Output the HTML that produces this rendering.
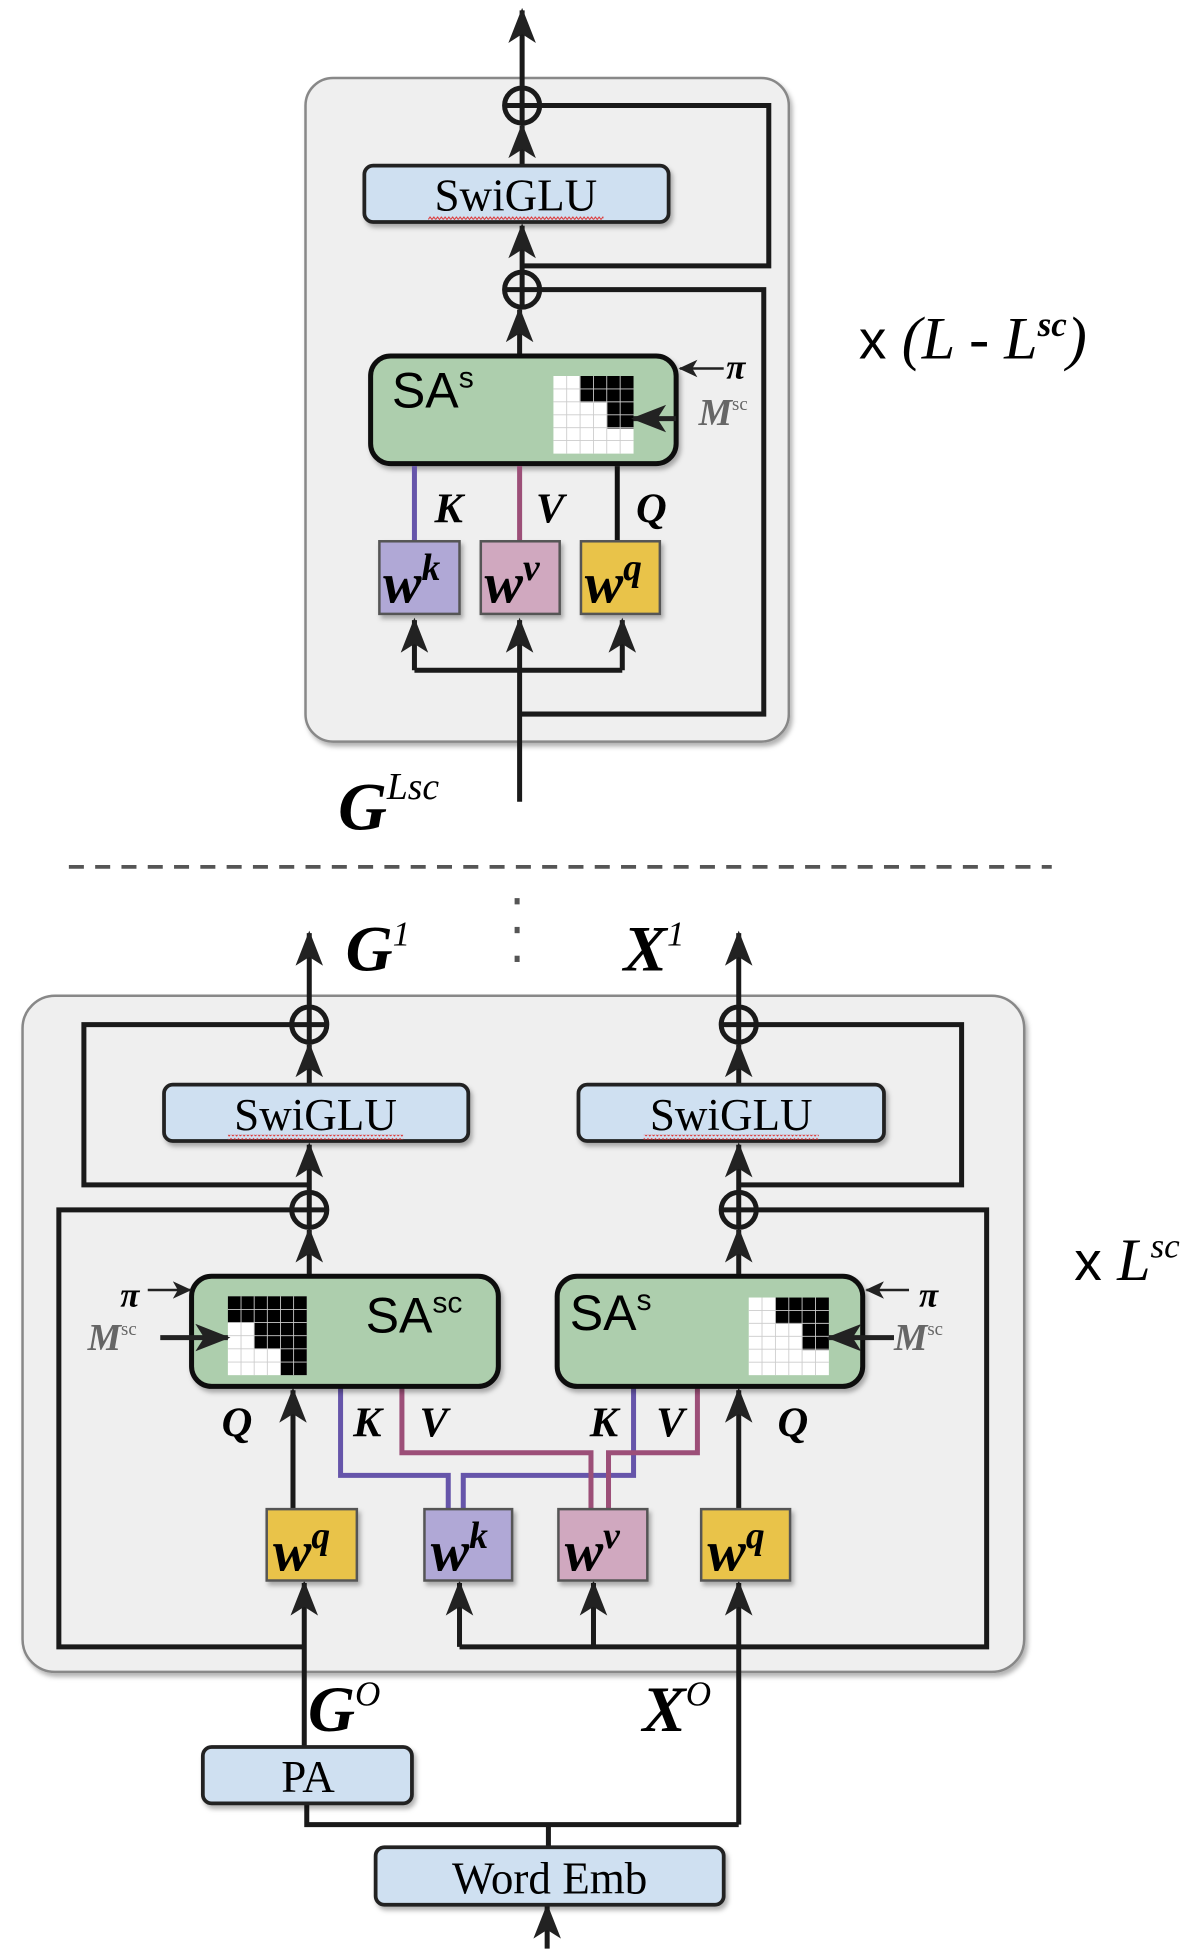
<!DOCTYPE html>
<html><head><meta charset="utf-8"><style>
html,body{margin:0;padding:0;background:#fff;}
svg{display:block;}
.ser{font-family:"Liberation Serif",serif;}
.san{font-family:"Liberation Sans",sans-serif;}
.bi{font-family:"Liberation Serif",serif;font-weight:bold;font-style:italic;}
</style></head><body>
<svg width="1202" height="1954" viewBox="0 0 960 1560" xmlns="http://www.w3.org/2000/svg">
<defs>
<marker id="a" markerUnits="userSpaceOnUse" markerWidth="30" markerHeight="24" refX="26" refY="12" orient="auto">
<path d="M0,1 L28,12 L0,23 L7,12z" fill="#222"/></marker>
<marker id="s" markerUnits="userSpaceOnUse" markerWidth="16" markerHeight="14" refX="14" refY="7" orient="auto">
<path d="M0,0 L15,7 L0,14 L4,7z" fill="#222"/></marker>
<filter id="sh" x="-10%" y="-10%" width="130%" height="130%"><feDropShadow dx="2" dy="3" stdDeviation="2" flood-color="#000" flood-opacity="0.3"/></filter>
<pattern id="sq" width="6" height="4" patternUnits="userSpaceOnUse"><path d="M0,3 L1.5,1 L3,3 L4.5,1 L6,3" stroke="#d33" stroke-width="0.8" fill="none"/></pattern>
</defs>

<!-- TOP BLOCK -->
<rect x="244" y="62" width="386" height="530" rx="22" fill="#efefef" stroke="#888" stroke-width="2" filter="url(#sh)"/>
<g stroke="#1a1a1a" stroke-width="4" fill="none">
<line x1="415" y1="640" x2="415" y2="495" marker-end="url(#a)"/>
<polyline points="331,535 497,535"/>
<line x1="331" y1="535" x2="331" y2="495" marker-end="url(#a)"/>
<line x1="497" y1="535" x2="497" y2="495" marker-end="url(#a)"/>
<polyline points="415,570 610,570 610,231 431,231"/>
<line x1="415" y1="284" x2="415" y2="247" marker-end="url(#a)"/>
<line x1="417" y1="217" x2="417" y2="180" marker-end="url(#a)"/>
<polyline points="417,212 614,212 614,84 431,84"/>
<line x1="417" y1="132" x2="417" y2="100" marker-end="url(#a)"/>
<line x1="417" y1="70" x2="417" y2="8" marker-end="url(#a)"/>
<circle cx="417" cy="84" r="14"/>
<line x1="403" y1="84" x2="431" y2="84"/><line x1="417" y1="70" x2="417" y2="98"/>
<circle cx="417" cy="231" r="14"/>
<line x1="403" y1="231" x2="431" y2="231"/><line x1="417" y1="217" x2="417" y2="245"/>
</g>
<rect x="291" y="132" width="243" height="45" rx="7" fill="#cfe0f1" stroke="#222" stroke-width="3" filter="url(#sh)"/>
<text x="412" y="168" text-anchor="middle" class="ser" font-size="36">SwiGLU</text>
<rect x="342" y="172" width="140" height="4" fill="url(#sq)"/>

<rect x="296" y="284" width="244" height="86" rx="16" fill="#adcead" stroke="#111" stroke-width="4" filter="url(#sh)"/>
<text x="313" y="325" class="san" font-size="40">SA<tspan font-size="24" dy="-16">s</tspan></text>
<g transform="translate(442,300)">
<rect width="64" height="62" fill="#fff"/>
<rect x="21" y="0" width="43" height="21" fill="#000"/>
<rect x="43" y="21" width="21" height="21" fill="#000"/>
<g stroke="#ccc" stroke-width="0.7">
<path d="M10.6,0V62M21.3,0V62M32,0V62M42.6,0V62M53.3,0V62M0,10.3H64M0,20.6H64M0,31H64M0,41.3H64M0,51.6H64"/></g></g>
<line x1="578" y1="294" x2="543" y2="294" stroke="#222" stroke-width="2" marker-end="url(#s)"/>
<text x="580" y="302" class="bi" font-size="28">π</text>
<line x1="540" y1="334" x2="506" y2="334" stroke="#222" stroke-width="4" marker-end="url(#a)"/>
<text x="558" y="339" class="bi" font-size="30" fill="#666">M<tspan font-size="15" font-weight="normal" font-style="normal" dy="-12">sc</tspan></text>

<line x1="331" y1="372" x2="331" y2="432" stroke="#6655aa" stroke-width="4"/>
<line x1="415" y1="372" x2="415" y2="432" stroke="#9c4f78" stroke-width="4"/>
<line x1="493" y1="372" x2="493" y2="432" stroke="#111" stroke-width="4"/>
<text x="347" y="417" class="bi" font-size="34">K</text>
<text x="428" y="417" class="bi" font-size="34">V</text>
<text x="508" y="417" class="bi" font-size="34">Q</text>

<g class="bi" font-size="46">
<rect x="303" y="432" width="64" height="58" fill="#b0a8d6" stroke="#555" stroke-width="2" filter="url(#sh)"/>
<text x="306" y="481">w<tspan font-size="30" dy="-18">k</tspan></text>
<rect x="384" y="432" width="63" height="58" fill="#d0a8bf" stroke="#555" stroke-width="2" filter="url(#sh)"/>
<text x="387" y="481">w<tspan font-size="30" dy="-18">v</tspan></text>
<rect x="464" y="432" width="63" height="58" fill="#e9c349" stroke="#555" stroke-width="2" filter="url(#sh)"/>
<text x="467" y="481">w<tspan font-size="30" dy="-18">q</tspan></text>
</g>

<text x="270" y="662" class="bi" font-size="54">G<tspan font-size="30" dy="-24" font-weight="normal">Lsc</tspan></text>
<text x="686" y="286" class="san" font-size="44">x <tspan class="ser" font-style="italic" font-size="48">(L - L<tspan font-weight="bold" font-size="28" dy="-18">sc</tspan><tspan dy="18">)</tspan></tspan></text>

<line x1="55" y1="692" x2="840" y2="692" stroke="#555" stroke-width="3" stroke-dasharray="12,9"/>
<g fill="#555"><rect x="411" y="717" width="4" height="5"/><rect x="411" y="740" width="4" height="5"/><rect x="411" y="763" width="4" height="5"/></g>
<text x="276" y="775" class="bi" font-size="52">G<tspan font-size="28" dy="-20" font-weight="normal">1</tspan></text>
<text x="498" y="775" class="bi" font-size="52">X<tspan font-size="28" dy="-20" font-weight="normal">1</tspan></text>

<!-- BOTTOM BLOCK -->
<rect x="18" y="795" width="800" height="540" rx="26" fill="#efefef" stroke="#888" stroke-width="2" filter="url(#sh)"/>
<g stroke="#1a1a1a" stroke-width="4" fill="none">
<line x1="247" y1="804" x2="247" y2="745" marker-end="url(#a)"/>
<line x1="247" y1="866" x2="247" y2="834" marker-end="url(#a)"/>
<line x1="247" y1="952" x2="247" y2="914" marker-end="url(#a)"/>
<line x1="247" y1="1019" x2="247" y2="982" marker-end="url(#a)"/>
<polyline points="233,818 67,818 67,946 247,946"/>
<polyline points="233,966 47,966 47,1315 243,1315"/>
<circle cx="247" cy="818" r="14"/><line x1="233" y1="818" x2="261" y2="818"/><line x1="247" y1="804" x2="247" y2="832"/>
<circle cx="247" cy="966" r="14"/><line x1="233" y1="966" x2="261" y2="966"/><line x1="247" y1="952" x2="247" y2="980"/>
<line x1="590" y1="804" x2="590" y2="745" marker-end="url(#a)"/>
<line x1="590" y1="866" x2="590" y2="834" marker-end="url(#a)"/>
<line x1="590" y1="952" x2="590" y2="914" marker-end="url(#a)"/>
<line x1="590" y1="1019" x2="590" y2="982" marker-end="url(#a)"/>
<polyline points="604,818 768,818 768,946 590,946"/>
<polyline points="604,966 788,966 788,1315 590,1315"/>
<circle cx="590" cy="818" r="14"/><line x1="576" y1="818" x2="604" y2="818"/><line x1="590" y1="804" x2="590" y2="832"/>
<circle cx="590" cy="966" r="14"/><line x1="576" y1="966" x2="604" y2="966"/><line x1="590" y1="952" x2="590" y2="980"/>
<line x1="234" y1="1205" x2="234" y2="1110" marker-end="url(#a)"/>
<line x1="590" y1="1205" x2="590" y2="1110" marker-end="url(#a)"/>
<polyline points="367,1315 590,1315"/>
<line x1="367" y1="1315" x2="367" y2="1264" marker-end="url(#a)"/>
<line x1="474" y1="1315" x2="474" y2="1264" marker-end="url(#a)"/>
<line x1="590" y1="1457" x2="590" y2="1264" marker-end="url(#a)"/>
<line x1="243" y1="1395" x2="243" y2="1264" marker-end="url(#a)"/>
<polyline points="245,1440 245,1457 590,1457"/>
<line x1="438" y1="1457" x2="438" y2="1475"/>
<line x1="437" y1="1556" x2="437" y2="1522" marker-end="url(#a)"/>
</g>
<g fill="none" stroke-width="4">
<polyline points="272,1107 272,1178 358,1178 358,1205" stroke="#6655aa"/>
<polyline points="506,1107 506,1178 370,1178 370,1205" stroke="#6655aa"/>
<polyline points="321,1107 321,1160 472,1160 472,1205" stroke="#9c4f78"/>
<polyline points="557,1107 557,1160 486,1160 486,1205" stroke="#9c4f78"/>
</g>

<rect x="131" y="866" width="243" height="45" rx="7" fill="#cfe0f1" stroke="#222" stroke-width="3" filter="url(#sh)"/>
<text x="252" y="902" text-anchor="middle" class="ser" font-size="36">SwiGLU</text>
<rect x="182" y="906" width="140" height="4" fill="url(#sq)"/>
<rect x="462" y="866" width="244" height="45" rx="7" fill="#cfe0f1" stroke="#222" stroke-width="3" filter="url(#sh)"/>
<text x="584" y="902" text-anchor="middle" class="ser" font-size="36">SwiGLU</text>
<rect x="514" y="906" width="140" height="4" fill="url(#sq)"/>

<rect x="153" y="1019" width="245" height="88" rx="16" fill="#adcead" stroke="#111" stroke-width="4" filter="url(#sh)"/>
<text x="292" y="1064" class="san" font-size="40">SA<tspan font-size="24" dy="-16">sc</tspan></text>
<g transform="translate(182,1035)">
<rect width="63" height="63" fill="#fff"/>
<rect x="0" y="0" width="63" height="21" fill="#000"/>
<rect x="21" y="21" width="42" height="21" fill="#000"/>
<rect x="42" y="42" width="21" height="21" fill="#000"/>
<g stroke="#ccc" stroke-width="0.7"><path d="M10.5,0V63M21,0V63M31.5,0V63M42,0V63M52.5,0V63M0,10.5H63M0,21H63M0,31.5H63M0,42H63M0,52.5H63"/></g></g>
<rect x="445" y="1019" width="244" height="88" rx="16" fill="#adcead" stroke="#111" stroke-width="4" filter="url(#sh)"/>
<text x="455" y="1062" class="san" font-size="40">SA<tspan font-size="24" dy="-16">s</tspan></text>
<g transform="translate(598,1036)">
<rect width="64" height="62" fill="#fff"/>
<rect x="21" y="0" width="43" height="21" fill="#000"/>
<rect x="43" y="21" width="21" height="21" fill="#000"/>
<g stroke="#ccc" stroke-width="0.7"><path d="M10.6,0V62M21.3,0V62M32,0V62M42.6,0V62M53.3,0V62M0,10.3H64M0,20.6H64M0,31H64M0,41.3H64M0,51.6H64"/></g></g>

<text x="96" y="1043" class="bi" font-size="28">π</text>
<line x1="118" y1="1030" x2="152" y2="1030" stroke="#222" stroke-width="2" marker-end="url(#s)"/>
<text x="70" y="1078" class="bi" font-size="30" fill="#666">M<tspan font-size="15" font-weight="normal" font-style="normal" dy="-12">sc</tspan></text>
<line x1="128" y1="1068" x2="182" y2="1068" stroke="#222" stroke-width="4" marker-end="url(#a)"/>
<text x="734" y="1043" class="bi" font-size="28">π</text>
<line x1="726" y1="1030" x2="692" y2="1030" stroke="#222" stroke-width="2" marker-end="url(#s)"/>
<text x="714" y="1078" class="bi" font-size="30" fill="#666">M<tspan font-size="15" font-weight="normal" font-style="normal" dy="-12">sc</tspan></text>
<line x1="714" y1="1068" x2="662" y2="1068" stroke="#222" stroke-width="4" marker-end="url(#a)"/>

<g class="bi" font-size="34">
<text x="177" y="1147">Q</text><text x="282" y="1147">K</text><text x="335" y="1147">V</text>
<text x="471" y="1147">K</text><text x="524" y="1147">V</text><text x="621" y="1147">Q</text>
</g>

<g class="bi" font-size="46">
<rect x="213" y="1205" width="72" height="57" fill="#e9c349" stroke="#555" stroke-width="2" filter="url(#sh)"/>
<text x="218" y="1254">w<tspan font-size="30" dy="-18">q</tspan></text>
<rect x="339" y="1205" width="70" height="57" fill="#b0a8d6" stroke="#555" stroke-width="2" filter="url(#sh)"/>
<text x="344" y="1254">w<tspan font-size="30" dy="-18">k</tspan></text>
<rect x="446" y="1205" width="71" height="57" fill="#d0a8bf" stroke="#555" stroke-width="2" filter="url(#sh)"/>
<text x="451" y="1254">w<tspan font-size="30" dy="-18">v</tspan></text>
<rect x="560" y="1205" width="71" height="57" fill="#e9c349" stroke="#555" stroke-width="2" filter="url(#sh)"/>
<text x="565" y="1254">w<tspan font-size="30" dy="-18">q</tspan></text>
</g>

<text x="858" y="1022" class="san" font-size="44">x <tspan class="ser" font-style="italic" font-size="48">L<tspan font-size="28" dy="-18">sc</tspan></tspan></text>

<text x="246" y="1382" class="bi" font-size="52">G<tspan font-size="28" dy="-20" font-weight="normal">O</tspan></text>
<text x="513" y="1382" class="bi" font-size="52">X<tspan font-size="28" dy="-20" font-weight="normal">O</tspan></text>

<rect x="162" y="1395" width="167" height="45" rx="7" fill="#cfe0f1" stroke="#222" stroke-width="3" filter="url(#sh)"/>
<text x="246" y="1431" text-anchor="middle" class="ser" font-size="36">PA</text>
<rect x="300" y="1475" width="278" height="46" rx="7" fill="#cfe0f1" stroke="#222" stroke-width="3" filter="url(#sh)"/>
<text x="439" y="1512" text-anchor="middle" class="ser" font-size="36">Word Emb</text>
</svg>
</body></html>
